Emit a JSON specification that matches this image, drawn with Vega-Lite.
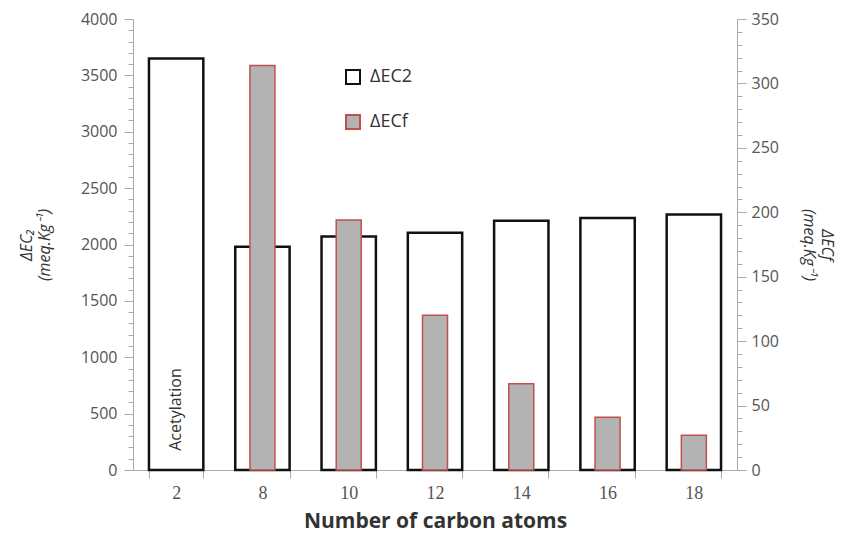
{
  "$schema": "https://vega.github.io/schema/vega-lite/v6.json",
  "width": 604,
  "height": 451,
  "autosize": {"type": "none"},
  "padding": {"left": 133, "top": 19, "right": 108, "bottom": 73},
  "background": "white",
  "config": {
    "view": {"stroke": null},
    "font": "Open Sans",
    "axis": {"grid": false, "domainColor": "#aaaaaa", "tickColor": "#aaaaaa", "labelColor": "#555555", "titleColor": "#333333"}
  },
  "datasets": {
    "bars": [
      {"c": "2", "series": "ΔEC2", "value": 3650},
      {"c": "8", "series": "ΔEC2", "value": 1980},
      {"c": "10", "series": "ΔEC2", "value": 2070},
      {"c": "12", "series": "ΔEC2", "value": 2105},
      {"c": "14", "series": "ΔEC2", "value": 2210},
      {"c": "16", "series": "ΔEC2", "value": 2235},
      {"c": "18", "series": "ΔEC2", "value": 2265},
      {"c": "8", "series": "ΔECf", "value": 314},
      {"c": "10", "series": "ΔECf", "value": 194},
      {"c": "12", "series": "ΔECf", "value": 120},
      {"c": "14", "series": "ΔECf", "value": 67},
      {"c": "16", "series": "ΔECf", "value": 41},
      {"c": "18", "series": "ΔECf", "value": 27}
    ],
    "annot": [
      {"c": "2", "value": 170, "label": "Acetylation"}
    ]
  },
  "encoding": {
    "x": {
      "field": "c",
      "type": "nominal",
      "sort": ["2", "8", "10", "12", "14", "16", "18"],
      "scale": {"paddingInner": 0.37, "paddingOuter": 0.185},
      "axis": {
        "title": "Number of carbon atoms",
        "titleFont": "Open Sans",
        "titleFontSize": 21,
        "titleFontWeight": "bold",
        "titlePadding": 8,
        "labelAngle": 0,
        "labelFont": "Liberation Serif",
        "labelFontSize": 18,
        "labelPadding": 6,
        "tickBand": "extent",
        "tickSize": 8
      }
    }
  },
  "layer": [
    {
      "encoding": {
        "y": {
          "field": "value",
          "type": "quantitative",
          "scale": {"domain": [0, 4000], "nice": false},
          "axis": {
            "orient": "left",
            "title": ["ΔEC₂", "(meq.Kg⁻¹)"],
            "titleFontSize": 16,
            "titleFontWeight": "normal",
            "titleFontStyle": "italic",
            "titlePadding": 28,
            "format": "d",
            "values": [0,100,200,300,400,500,600,700,800,900,1000,1100,1200,1300,1400,1500,1600,1700,1800,1900,2000,2100,2200,2300,2400,2500,2600,2700,2800,2900,3000,3100,3200,3300,3400,3500,3600,3700,3800,3900,4000],
            "labelExpr": "datum.value % 500 === 0 ? datum.label : ''",
            "labelOverlap": false,
            "labelFontSize": 16,
            "labelPadding": 7,
            "tickSize": {"condition": {"test": "datum.value % 500 === 0", "value": 9}, "value": 5}
          }
        }
      },
      "layer": [
        {
          "data": {"name": "bars"},
          "transform": [{"filter": "datum.series === 'ΔEC2'"}],
          "mark": {"type": "bar", "strokeWidth": 2.5},
          "encoding": {
            "fill": {
              "field": "series",
              "type": "nominal",
              "scale": {"domain": ["ΔEC2", "ΔECf"], "range": ["#ffffff", "#b3b3b3"]},
              "legend": {
                "title": null,
                "orient": "none",
                "legendX": 211,
                "legendY": 49,
                "symbolType": "square",
                "symbolSize": 196,
                "symbolStrokeWidth": 2,
                "labelFontSize": 18,
                "labelColor": "#333333",
                "labelOffset": 8,
                "rowPadding": 23
              }
            },
            "stroke": {
              "field": "series",
              "type": "nominal",
              "scale": {"domain": ["ΔEC2", "ΔECf"], "range": ["#111111", "#c0504d"]},
              "legend": {
                "title": null,
                "orient": "none",
                "legendX": 211,
                "legendY": 49,
                "symbolType": "square",
                "symbolSize": 196,
                "symbolStrokeWidth": 2,
                "labelFontSize": 18,
                "labelColor": "#333333",
                "labelOffset": 8,
                "rowPadding": 23
              }
            }
          }
        },
        {
          "data": {"name": "annot"},
          "mark": {"type": "text", "angle": 270, "align": "left", "baseline": "middle", "fontSize": 16, "color": "#333333", "font": "Open Sans"},
          "encoding": {
            "text": {"field": "label"}
          }
        }
      ]
    },
    {
      "data": {"name": "bars"},
      "transform": [{"filter": "datum.series === 'ΔECf'"}],
      "mark": {"type": "bar", "width": {"band": 0.46}, "strokeWidth": 1.5},
      "encoding": {
        "y": {
          "field": "value",
          "type": "quantitative",
          "scale": {"domain": [0, 350], "nice": false},
          "axis": {
            "orient": "right",
            "title": ["ΔECf", "(meq.Kg⁻¹)"],
            "titleFontSize": 16,
            "titleFontWeight": "normal",
            "titleFontStyle": "italic",
            "titlePadding": 22,
            "format": "d",
            "values": [0,10,20,30,40,50,60,70,80,90,100,110,120,130,140,150,160,170,180,190,200,210,220,230,240,250,260,270,280,290,300,310,320,330,340,350],
            "labelExpr": "datum.value % 50 === 0 ? datum.label : ''",
            "labelOverlap": false,
            "labelFontSize": 16,
            "labelPadding": 5,
            "tickSize": {"condition": {"test": "datum.value % 50 === 0", "value": 9}, "value": 5}
          }
        },
        "fill": {"field": "series", "type": "nominal"},
        "stroke": {"field": "series", "type": "nominal"}
      }
    }
  ],
  "resolve": {"scale": {"y": "independent"}}
}
